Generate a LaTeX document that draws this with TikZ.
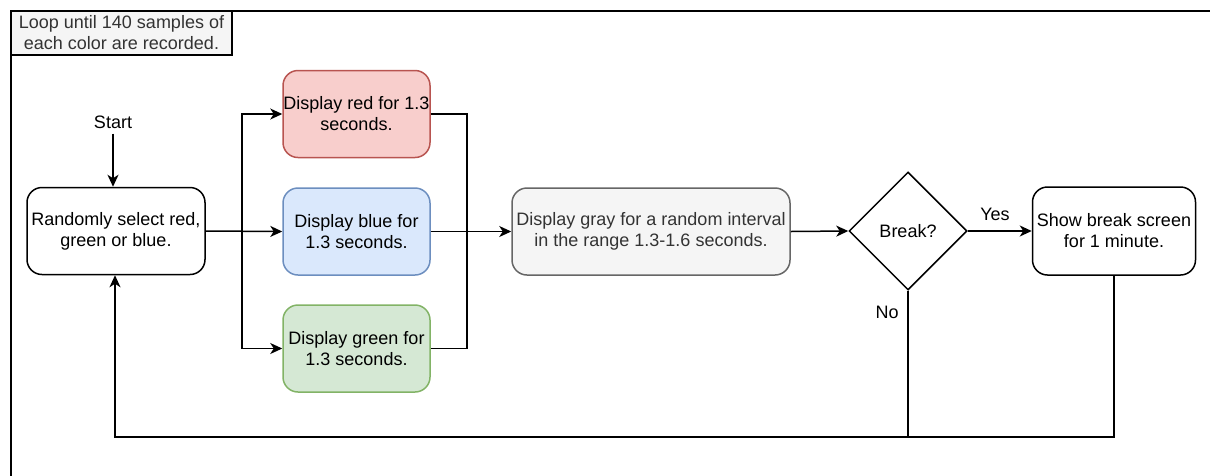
\documentclass[tikz,border=0pt]{standalone}
\usepackage{fontspec}
\setmainfont{Liberation Sans}
\usetikzlibrary{arrows.meta,shapes.geometric}
\definecolor{redfill}{HTML}{F8CECC}\definecolor{redline}{HTML}{B85450}
\definecolor{bluefill}{HTML}{DAE8FC}\definecolor{blueline}{HTML}{6C8EBF}
\definecolor{greenfill}{HTML}{D5E8D4}\definecolor{greenline}{HTML}{82B366}
\definecolor{grayfill}{HTML}{F5F5F5}\definecolor{grayline}{HTML}{666666}
\definecolor{graytext}{HTML}{333333}
\tikzset{
  base/.style={font=\fontsize{18}{21}\selectfont, align=center, inner sep=0pt},
  proc/.style={base, draw, line width=1.5pt, rounded corners=15pt, minimum height=87pt},
  redbox/.style={proc, fill=redfill, draw=redline},
  bluebox/.style={proc, fill=bluefill, draw=blueline},
  greenbox/.style={proc, fill=greenfill, draw=greenline},
  graybox/.style={proc, fill=grayfill, draw=grayline, text=graytext},
  decision/.style={base, draw, line width=1.5pt, diamond, aspect=1, minimum width=118pt, minimum height=118pt},
  lbl/.style={base},
  wire/.style={line width=1.5pt},
  arr/.style={wire, -{Stealth[length=12pt,width=11pt,inset=3.5pt]}}
}
\begin{document}
\begin{tikzpicture}[x=1pt,y=-1pt]
\useasboundingbox (0,0) rectangle (1210,475);
% outer loop frame and its caption
\draw[line width=1.5pt] (11,480) -- (11,11) -- (1215,11);
\node[base, draw, line width=1.5pt, fill=grayfill, text=graytext, minimum width=221pt, minimum height=44pt] (loop) at (121.5,33) {Loop until 140 samples of\\each color are recorded.};

% nodes
\node[lbl] (start) at (113,122) {Start};
\node[proc, minimum width=178pt] (sel) at (116,231) {Randomly select red,\\green or blue.};
\node[redbox, minimum width=147pt] (red) at (356.5,114) {Display red for 1.3\\seconds.};
\node[bluebox, minimum width=147pt] (blue) at (356.5,231.5) {Display blue for\\1.3 seconds.};
\node[greenbox, minimum width=147pt] (green) at (356.5,348.5) {Display green for\\1.3 seconds.};
\node[graybox, minimum width=278pt] (gray) at (651,231.5) {Display gray for a random interval\\in the range 1.3-1.6 seconds.};
\node[decision] (dia) at (908,231) {Break?};
\node[proc, minimum width=163pt, minimum height=88pt] (show) at (1114,231) {Show break screen\\for 1 minute.};
\node[lbl] (yes) at (995,214) {Yes};
\node[lbl] (no) at (887,312) {No};

% junction points
\coordinate (fork) at (242,231);
\coordinate (join) at (467,231);
\coordinate (merge) at (908,437);

% connectors
\draw[arr] ([yshift=-5pt]start.south) -- (start.south |- sel.north);
\draw[arr] (sel.east) -- (blue.west);
\draw[arr] (fork) |- (red.west);
\draw[arr] (fork) |- (green.west);
\draw[wire] (red.east) -| (join);
\draw[wire] (green.east) -| (join);
\draw[arr] (blue.east) -- (gray.west);
\draw[arr] (gray.east) -- (dia.west);
\draw[arr] (dia.east) -- (show.west);
\draw[wire] (show.south) |- (merge);
\draw[arr] (dia.south) -- (merge) -| ([xshift=-1pt]sel.south);
\end{tikzpicture}
\end{document}
